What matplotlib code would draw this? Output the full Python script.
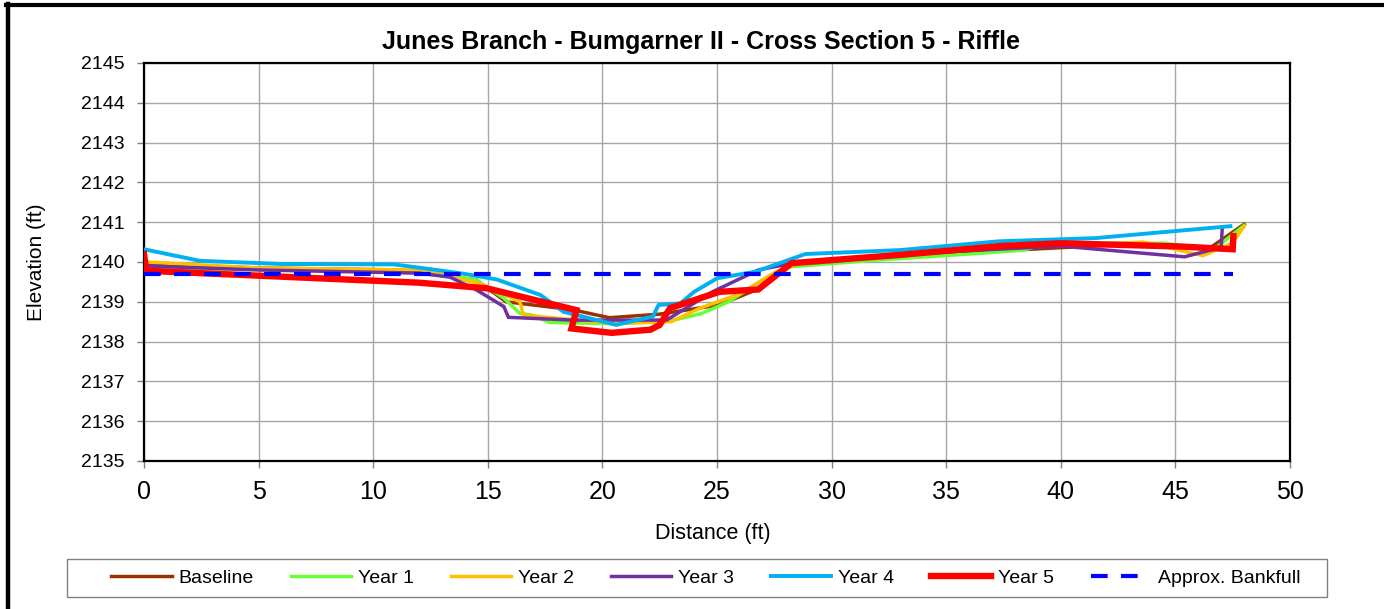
import matplotlib
matplotlib.use("Agg")
import matplotlib.pyplot as plt
from matplotlib.lines import Line2D
from matplotlib.patches import Rectangle

plt.rcParams['font.family'] = ['Liberation Sans', 'DejaVu Sans']

title = "Junes Branch - Bumgarner II - Cross Section 5 - Riffle"
series_names = ["Baseline", "Year 1", "Year 2", "Year 3", "Year 4", "Year 5"]

baseline_x = [0, 0.1, 5, 11, 14.5, 15.8, 16.4, 18.7, 20.3, 22.5, 25.1, 26.7, 28.3, 33, 38, 43, 46.5, 48.0]
baseline_y = [2140.05, 2139.95, 2139.85, 2139.8, 2139.55, 2139.0, 2138.96, 2138.8, 2138.6, 2138.69,
              2138.92, 2139.3, 2139.95, 2140.15, 2140.3, 2140.45, 2140.35, 2140.95]

year1_x = [0, 0.1, 6, 12, 14.5, 15.7, 16.4, 16.9, 17.7, 20.5, 23.1, 24.3, 25.5, 27.2, 28.2, 32,
           36.5, 38.4, 39.4, 44.6, 46.6, 48.0]
year1_y = [2140.0, 2139.85, 2139.8, 2139.78, 2139.55, 2139.09, 2138.71, 2138.67, 2138.48, 2138.45,
           2138.54, 2138.7, 2139.0, 2139.63, 2139.88, 2140.05, 2140.22, 2140.3, 2140.47, 2140.47,
           2140.28, 2140.92]

year2_x = [0, 0.1, 5, 12, 14.66, 16.4, 16.55, 17.1, 20.5, 23, 24.26, 26, 27.6, 28.5, 33, 37.3,
           43.6, 46.2, 47.5, 48.0]
year2_y = [2140.25, 2140.0, 2139.85, 2139.8, 2139.46, 2139.0, 2138.67, 2138.64, 2138.45, 2138.5,
           2138.84, 2139.2, 2139.76, 2139.95, 2140.2, 2140.35, 2140.5, 2140.16, 2140.48, 2140.9]

year3_x = [0, 0.1, 5, 12, 13.35, 14.5, 15.7, 15.9, 18.7, 22.8, 24.8, 26.8, 28.3, 33, 40, 45.4,
           47.0, 47.04]
year3_y = [2140.2, 2139.9, 2139.8, 2139.72, 2139.62, 2139.3, 2138.88, 2138.61, 2138.54, 2138.54,
           2139.25, 2139.8, 2139.97, 2140.2, 2140.4, 2140.13, 2140.37, 2140.82]

year4_x = [0, 2.44, 6, 10.9, 12.5, 14, 15.4, 17.3, 18.3, 20.6, 22.2, 22.45, 23.4, 24.0, 25.0,
           26.7, 28.85, 33, 37.3, 41.5, 47.4]
year4_y = [2140.32, 2140.03, 2139.95, 2139.94, 2139.82, 2139.7, 2139.56, 2139.17, 2138.75,
           2138.42, 2138.63, 2138.92, 2138.96, 2139.25, 2139.59, 2139.76, 2140.2, 2140.3,
           2140.52, 2140.6, 2140.9]

year5_x = [0, 0.1, 12, 14.95, 18.87, 18.65, 20.4, 22.1, 22.5, 22.95, 25.1, 26.8, 28.25, 33,
           37.35, 40, 45.2, 47.5, 47.53]
year5_y = [2140.2, 2139.78, 2139.48, 2139.34, 2138.79, 2138.33, 2138.22, 2138.3, 2138.42,
           2138.84, 2139.25, 2139.31, 2139.97, 2140.18, 2140.4, 2140.47, 2140.39, 2140.32,
           2140.65]

bankfull_x = [0, 47.5]
bankfull_y = [2139.7, 2139.7]

x_ticks = [0, 5, 10, 15, 20, 25, 30, 35, 40, 45, 50]
y_ticks = [2135, 2136, 2137, 2138, 2139, 2140, 2141, 2142, 2143, 2144, 2145]

colors = ["#993300", "#66FF33", "#FFC000", "#7030A0", "#00B0F0", "#FF0000"]
widths = [2.5, 2.5, 2.5, 2.5, 2.8, 4.6]

fig = plt.figure(figsize=(13.84, 6.09), dpi=100)
W, H = 1384, 609
ax = fig.add_axes([144 / W, 1 - 461 / H, (1290 - 144) / W, (461 - 63) / H])

xs = [baseline_x, year1_x, year2_x, year3_x, year4_x, year5_x]
ys = [baseline_y, year1_y, year2_y, year3_y, year4_y, year5_y]
for name, x, y, c, lw in zip(series_names, xs, ys, colors, widths):
    ax.plot(x, y, color=c, lw=lw, label=name, solid_joinstyle='miter', zorder=3)
ax.plot(bankfull_x, bankfull_y, color="#0000FF", lw=3.0, dashes=(4, 3.2),
        label="Approx. Bankfull", zorder=4)

ax.set_xlim(0, 50)
ax.set_ylim(2135, 2145)
ax.set_xticks(x_ticks)
ax.set_yticks(y_ticks)
ax.grid(True, color="#A6A6A6", lw=1.0)
ax.set_axisbelow(True)
for s in ax.spines.values():
    s.set_color("black")
    s.set_linewidth(1.6)
ax.tick_params(axis='x', labelsize=18, color="#808080", length=5, width=1, pad=8.5)
ax.tick_params(axis='y', labelsize=14, color="#808080", length=5, width=1, pad=9)

fig.text(701 / W, 1 - 42 / H, title, ha='center', va='center', fontsize=18, fontweight='bold')
fig.text(713 / W, 1 - 534 / H, "Distance (ft)", ha='center', va='center', fontsize=15.5)
fig.text(36 / W, 1 - 262 / H, "Elevation (ft)", ha='center', va='center', fontsize=15, rotation=90)

handles, labels = ax.get_legend_handles_labels()
leg = fig.legend(handles, labels, loc='center', bbox_to_anchor=(706 / W, 1 - 578 / H), ncol=7,
                 fontsize=14, frameon=False, handlelength=3.1,
                 handletextpad=0.35, columnspacing=1.9, borderpad=0.35)

fig.add_artist(Rectangle((67 / W, 1 - 597 / H), (1327 - 67) / W, (597 - 559) / H,
                         transform=fig.transFigure, fill=False, edgecolor="#808080", lw=1.0))

fig.add_artist(Line2D([6 / W, 1], [1 - 5.3 / H, 1 - 5.3 / H], color='black', lw=3,
                      transform=fig.transFigure))
fig.add_artist(Line2D([8.3 / W, 8.3 / W], [0, 1 - 3.5 / H], color='black', lw=3.2,
                      transform=fig.transFigure))

fig.savefig("out.png", dpi=100)
